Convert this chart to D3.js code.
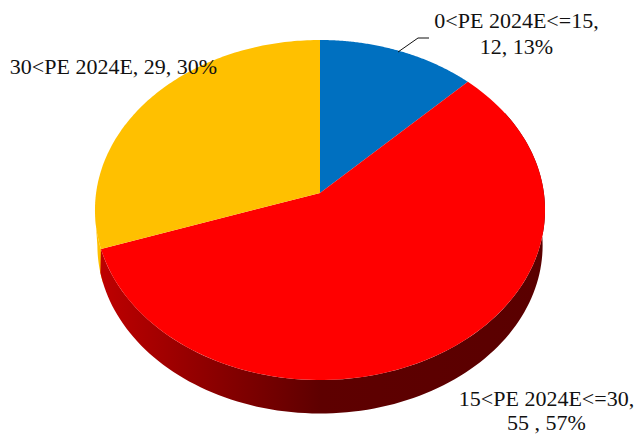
<!DOCTYPE html>
<html><head><meta charset="utf-8">
<script src="https://cdn.jsdelivr.net/npm/d3@7"></script>
<style>html,body{margin:0;padding:0;background:#fff}svg{display:block}text{font-family:"Liberation Serif",serif;fill:#111}</style>
</head><body><svg id="c" width="638" height="435"></svg>
<script>
const categories = ["0<PE 2024E<=15", "15<PE 2024E<=30", "30<PE 2024E"];
const values = [12, 55, 29];
const colors = ["#0070C0", "#FF0000", "#FFC000"];
const labelLines = [["0<PE 2024E<=15,", "12, 13%"], ["15<PE 2024E<=30,", "55 , 57%"], ["30<PE 2024E, 29, 30%"]];

const svg = d3.select("#c");
const slices = d3.pie().sort(null)(values);
const k = 0.1;
function proj(t, f) {
  const d = 1 + k * Math.cos(t);
  return [320 + f.a * Math.sin(t) / d, f.y - f.b * Math.cos(t) / d];
}
const topF = {a: 223.9, b: 168.3, y: 193};
const botF = {a: 221.5, b: 166.5, y: 228.5};
const line = d3.line();
const samp = (t0, t1, f) => d3.range(0, 121).map(i => proj(t0 + (t1 - t0) * i / 120, f));

const defs = svg.append("defs");
const g = defs.append("linearGradient").attr("id", "wall").attr("gradientUnits", "userSpaceOnUse")
  .attr("x1", 95).attr("x2", 545).attr("y1", 0).attr("y2", 0);
[[0, "#c00000"], [0.12, "#a80000"], [0.3, "#840000"], [0.5, "#5e0000"], [1, "#5a0000"]]
  .forEach(s => g.append("stop").attr("offset", s[0]).attr("stop-color", s[1]));

const deg = Math.PI / 180;
const redEnd = slices[1].endAngle;
// sliver of the yellow wall
svg.append("path").attr("fill", colors[2])
  .attr("d", line(samp(redEnd, 264 * deg, topF).concat(samp(264 * deg, redEnd, botF))) + "Z");
// side wall of the red slice
svg.append("path").attr("fill", "url(#wall)")
  .attr("d", line(samp(60 * deg, redEnd, topF).concat(samp(255 * deg, 60 * deg, botF))) + "Z");

// top face
slices.forEach((s, i) => {
  const pts = [[320, topF.y]].concat(samp(s.startAngle, s.endAngle, topF));
  svg.append("path").attr("fill", colors[i]).attr("d", line(pts) + "Z");
});

// leader line
svg.append("path").attr("fill", "none").attr("stroke", "#111").attr("stroke-width", 1)
  .attr("d", line([[398, 52], [418, 38], [429, 38]]));

const pos = [{x: 516.5, y: 28, s: 26}, {x: 546.5, y: 406, s: 24}, {x: 113.5, y: 74, s: 0}];
labelLines.forEach((ls, i) => ls.forEach((t, j) => {
  svg.append("text").attr("x", pos[i].x).attr("y", pos[i].y + j * pos[i].s)
    .attr("text-anchor", "middle").attr("font-size", 22).text(t);
}));
</script></body></html>
